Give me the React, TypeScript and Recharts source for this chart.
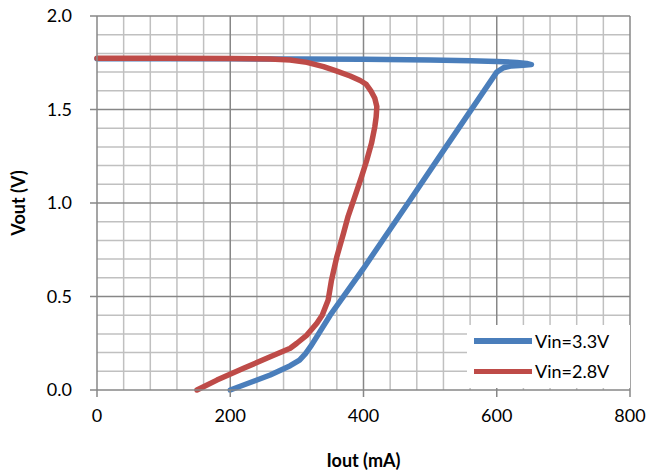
import { Legend, Line, LineChart, ReferenceLine, XAxis, YAxis } from 'recharts';

// Vin = 3.3V curve (including the fold-back)
const blueCurrent = [0, 100, 200, 300, 400, 500, 560, 600, 630, 645, 652, 640, 622, 610, 600, 560, 520, 470, 440, 400, 350, 322, 313, 304, 290, 260, 230, 200];
const blueVoltage = [1.772, 1.772, 1.771, 1.77, 1.769, 1.765, 1.761, 1.757, 1.752, 1.746, 1.74, 1.737, 1.733, 1.723, 1.7, 1.49, 1.28, 1.016, 0.86, 0.65, 0.4, 0.24, 0.195, 0.16, 0.13, 0.08, 0.04, 0];

// Vin = 2.8V curve
const redCurrent = [0, 100, 200, 260, 290, 315, 340, 360, 380, 395, 404, 411, 417, 420, 419, 417, 412, 405, 397, 387, 377, 370, 360, 352, 347, 343, 338, 330, 315, 300, 290, 260, 220, 180, 150];
const redVoltage = [1.774, 1.774, 1.773, 1.77, 1.765, 1.752, 1.729, 1.705, 1.679, 1.655, 1.635, 1.6, 1.56, 1.515, 1.46, 1.408, 1.319, 1.23, 1.14, 1.034, 0.93, 0.838, 0.713, 0.588, 0.481, 0.445, 0.4, 0.357, 0.294, 0.25, 0.223, 0.178, 0.116, 0.053, 0];

const seriesNames = ['Vin=3.3V', 'Vin=2.8V'];

const xTicks = [0, 200, 400, 600, 800];
const yTicks = [0, 0.5, 1.0, 1.5, 2.0];
const xMinor = [40, 80, 120, 160, 240, 280, 320, 360, 440, 480, 520, 560, 640, 680, 720, 760];
const yMinor = [0.1, 0.2, 0.3, 0.4, 0.6, 0.7, 0.8, 0.9, 1.1, 1.2, 1.3, 1.4, 1.6, 1.7, 1.8, 1.9];

const toPoints = (xs: number[], ys: number[]) => xs.map((x, i) => ({ iout: x, vout: ys[i] }));

const blueData = toPoints(blueCurrent, blueVoltage);
const redData = toPoints(redCurrent, redVoltage);

const FONT = 'Lato, "Open Sans", sans-serif';
const MAJOR = '#878787';
const MINOR = '#c0c0c0';

function renderLegend(props: any) {
  const items = [...(props.payload || [])].sort(
    (a: any, b: any) => seriesNames.indexOf(a.value) - seriesNames.indexOf(b.value)
  );
  return (
    <div style={{ background: '#fff', width: 163, height: 63, paddingTop: 1, boxSizing: 'border-box' }}>
      {items.map((item: any, i: number) => (
        <div key={item.value} style={{ display: 'flex', alignItems: 'center', height: 30 }}>
          <div
            style={{
              marginLeft: 7,
              width: 58,
              height: i === 0 ? 6 : 5,
              background: item.color
            }}
          />
          <span style={{ marginLeft: 3, fontFamily: FONT, fontSize: 18, color: '#000' }}>{item.value}</span>
        </div>
      ))}
    </div>
  );
}

export default function App() {
  return (
    <div style={{ position: 'absolute', left: 0, top: 0, width: 647, height: 473, background: '#fff' }}>
      <LineChart width={647} height={473} margin={{ top: 16, right: 17, left: 0, bottom: 0 }}>
        {xMinor.map((v) => (
          <ReferenceLine key={`xm${v}`} x={v} stroke={MINOR} strokeWidth={1.5} />
        ))}
        {yMinor.map((v) => (
          <ReferenceLine key={`ym${v}`} y={v} stroke={MINOR} strokeWidth={1.5} />
        ))}
        {xTicks.slice(1).map((v) => (
          <ReferenceLine key={`xM${v}`} x={v} stroke={MAJOR} strokeWidth={1.5} />
        ))}
        {yTicks.slice(1).map((v) => (
          <ReferenceLine key={`yM${v}`} y={v} stroke={MAJOR} strokeWidth={1.5} />
        ))}
        <XAxis
          type="number"
          dataKey="iout"
          domain={[0, 800]}
          ticks={xTicks}
          height={83}
          tickSize={7}
          tickMargin={12}
          axisLine={{ stroke: MAJOR, strokeWidth: 1.5 }}
          tickLine={{ stroke: MAJOR, strokeWidth: 1.5 }}
          tick={{ fill: '#000', fontSize: 18, fontFamily: FONT }}
          label={{
            value: 'Iout (mA)',
            position: 'insideBottom',
            offset: 6,
            style: { fill: '#000', fontSize: 18, fontWeight: 700, fontFamily: FONT }
          }}
        />
        <YAxis
          type="number"
          dataKey="vout"
          domain={[0, 2]}
          ticks={yTicks}
          width={97}
          tickSize={7}
          tickMargin={18}
          tickFormatter={(v: number) => v.toFixed(1)}
          axisLine={{ stroke: MAJOR, strokeWidth: 1.5 }}
          tickLine={{ stroke: MAJOR, strokeWidth: 1.5 }}
          tick={{ fill: '#000', fontSize: 18, fontFamily: FONT }}
          label={{
            value: 'Vout (V)',
            angle: -90,
            position: 'center',
            dx: -30,
            style: { fill: '#000', fontSize: 18, fontWeight: 700, fontFamily: FONT }
          }}
        />
        <Line
          data={blueData}
          dataKey="vout"
          name={seriesNames[0]}
          type="linear"
          stroke="#4a7ebb"
          strokeWidth={5.5}
          strokeLinejoin="round"
          strokeLinecap="round"
          dot={false}
          isAnimationActive={false}
        />
        <Line
          data={redData}
          dataKey="vout"
          name={seriesNames[1]}
          type="linear"
          stroke="#be4b48"
          strokeWidth={5.5}
          strokeLinejoin="round"
          strokeLinecap="round"
          dot={false}
          isAnimationActive={false}
        />
        <Legend
          layout="horizontal"
          verticalAlign="middle"
          align="center"
          content={renderLegend}
          wrapperStyle={{ left: 467, top: 325, width: 163, height: 63, right: 'auto', bottom: 'auto' }}
        />
      </LineChart>
    </div>
  );
}
